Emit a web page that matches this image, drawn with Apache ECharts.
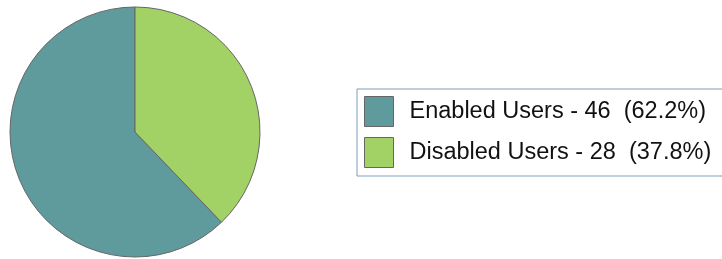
<!DOCTYPE html>
<html>
<head>
<meta charset="utf-8">
<script src="https://cdn.jsdelivr.net/npm/echarts@6/dist/echarts.min.js"></script>
<style>
  html, body { margin: 0; padding: 0; background: #fff; }
  #chart { width: 722px; height: 259px; }
</style>
</head>
<body>
<div id="chart"></div>
<script>
// chart data
const categories = ['Enabled Users', 'Disabled Users'];
const values = [46, 28];
const colors = ['#5f9b9c', '#a2d165'];

const total = values.reduce((a, b) => a + b, 0);

const chart = echarts.init(document.getElementById('chart'), null, { renderer: 'canvas' });

const option = {
    backgroundColor: '#ffffff',
    animation: false,
    color: colors,
    legend: {
        orient: 'vertical',
        left: 357,
        top: 89,
        padding: [7, 30, 8, 7],
        itemWidth: 29,
        itemHeight: 30,
        itemGap: 10,
        icon: 'rect',
        borderColor: '#7f9db9',
        borderWidth: 1,
        itemStyle: { borderColor: '#666', borderWidth: 1 },
        textStyle: {
            fontFamily: 'Liberation Sans, Arial, sans-serif',
            fontSize: 23.5,
            color: '#111',
            padding: [0, 0, 2, 11]
        },
        formatter: function (name) {
            const i = categories.indexOf(name);
            const pct = (values[i] / total * 100).toFixed(1);
            return name + ' - ' + values[i] + '  (' + pct + '%)';
        },
        data: categories
    },
    series: [{
        type: 'pie',
        center: [135, 132],
        radius: 125,
        startAngle: 90,
        clockwise: false,
        label: { show: false },
        labelLine: { show: false },
        emphasis: { disabled: true },
        itemStyle: { borderColor: '#666', borderWidth: 1 },
        data: categories.map((c, i) => ({ name: c, value: values[i] }))
    }]
};

chart.setOption(option);
</script>
</body>
</html>
